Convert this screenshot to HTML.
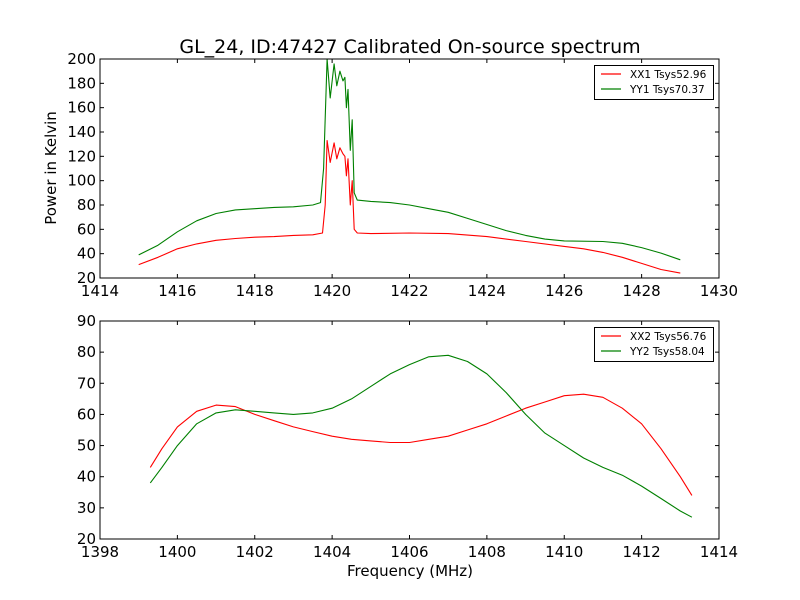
<!DOCTYPE html>
<html><head><meta charset="utf-8"><style>
body{margin:0;background:#fff;}
svg{display:block;font-family:"DejaVu Sans","Liberation Sans",sans-serif;}
</style></head><body>
<svg id="c" width="800" height="600"></svg>
<script>
const topFreqRed=[1415,1415.5,1416,1416.5,1417,1417.5,1418,1418.5,1419,1419.5,1419.75,1419.82,1419.87,1419.95,1420.05,1420.12,1420.2,1420.28,1420.33,1420.37,1420.41,1420.47,1420.52,1420.57,1420.65,1421,1422,1423,1424,1425,1426,1426.5,1427,1427.5,1428,1428.5,1429];
const topXX1=[31,37,44,48,51,52.5,53.5,54,55,55.5,57,80,133,115,131,118,127,122,120,104,118,80,100,60,57,56.5,57,56.5,54,50,46,44,41,37,32,27,24];
const topFreqGreen=[1415,1415.5,1416,1416.5,1417,1417.5,1418,1418.5,1419,1419.5,1419.7,1419.78,1419.87,1419.95,1420.05,1420.12,1420.2,1420.28,1420.33,1420.37,1420.41,1420.47,1420.52,1420.57,1420.65,1421,1421.5,1422,1422.5,1423,1423.5,1424,1424.5,1425,1425.5,1426,1427,1427.5,1428,1428.5,1429];
const topYY1=[39,47,58,67,73,76,77,78,78.5,80,82,110,200,168,196,178,190,182,185,160,175,125,150,90,84,83,82,80,77,74,69,64,59,55,52,50.5,50,48.5,45,40.5,35];
const botFreq=[1399.3,1399.6,1400,1400.5,1401,1401.5,1402,1402.5,1403,1403.5,1404,1404.5,1405,1405.5,1406,1406.5,1407,1407.5,1408,1408.5,1409,1409.5,1410,1410.5,1411,1411.5,1412,1412.5,1413,1413.3];
const botXX2=[43,49,56,61,63,62.5,60,58,56,54.5,53,52,51.5,51,51,52,53,55,57,59.5,62,64,66,66.5,65.5,62,57,49,40,34];
const botYY2=[38,43,50,57,60.5,61.5,61,60.5,60,60.5,62,65,69,73,76,78.5,79,77,73,67,60,54,50,46,43,40.5,37,33,29,27];
const topXTicks=[1414,1416,1418,1420,1422,1424,1426,1428,1430];
const topYTicks=[20,40,60,80,100,120,140,160,180,200];
const botXTicks=[1398,1400,1402,1404,1406,1408,1410,1412,1414];
const botYTicks=[20,30,40,50,60,70,80,90];

const NS="http://www.w3.org/2000/svg";
const svg=document.getElementById('c');
function mk(tag,attrs,parent,text){const e=document.createElementNS(NS,tag);for(const k in attrs)e.setAttribute(k,attrs[k]);if(text!==undefined)e.textContent=text;(parent||svg).appendChild(e);return e;}

function panel(name,x0,x1,y0,y1,xmin,xmax,ymin,ymax,xt,yt,series,legend){
  const g=mk('g',{});
  
  
  const sx=v=>x0+(v-xmin)/(xmax-xmin)*(x1-x0);
  const sy=v=>y1-(v-ymin)/(ymax-ymin)*(y1-y0);
  series.forEach(s=>{
    const d=s.x.map((v,i)=>(i?'L':'M')+sx(v).toFixed(1)+','+sy(s.y[i]).toFixed(1)).join(' ');
    const p=mk('path',{d:d,fill:'none',stroke:s.color,'stroke-width':1.1,'stroke-linejoin':'round'},g);
    
    
  });
  const fr=mk('rect',{x:x0,y:y0,width:x1-x0,height:y1-y0,fill:'none',stroke:'#000','stroke-width':1},g);
  
  
  xt.forEach(v=>{const x=sx(v);
    mk('line',{x1:x,x2:x,y1:y1,y2:y1-4,stroke:'#000'},g);mk('line',{x1:x,x2:x,y1:y0,y2:y0+4,stroke:'#000'},g);
    const t=mk('text',{x:x,y:y1+18,'font-size':15,'text-anchor':'middle'},g,String(v));
    
    
  });
  yt.forEach(v=>{const y=sy(v);
    mk('line',{x1:x0,x2:x0+4,y1:y,y2:y,stroke:'#000'},g);mk('line',{x1:x1,x2:x1-4,y1:y,y2:y,stroke:'#000'},g);
    const t=mk('text',{x:x0-4,y:y+5,'font-size':15,'text-anchor':'end'},g,String(v));
    
    
  });
  const lg=mk('g',{},g);
  
  
  mk('rect',{x:594.5,y:y0+6.5,width:119,height:34,fill:'#fff',stroke:'#000'},lg);
  legend.forEach((l,i)=>{const y=y0+15+i*15;
    mk('line',{x1:601,x2:621,y1:y,y2:y,stroke:l.color,'stroke-width':1.2},lg);
    const t=mk('text',{x:630,y:y+4,'font-size':10.5},lg,l.label);
    
    
  });
}
panel('top-panel',100,719,59,278,1414,1430,20,200,topXTicks,topYTicks,
  [{name:'xx1-line',x:topFreqRed,y:topXX1,color:'#ff0000'},{name:'yy1-line',x:topFreqGreen,y:topYY1,color:'#008000'}],
  [{label:'XX1 Tsys52.96',color:'#ff0000'},{label:'YY1 Tsys70.37',color:'#008000'}]);
panel('bottom-panel',100,719,321,539,1398,1414,20,90,botXTicks,botYTicks,
  [{name:'xx2-line',x:botFreq,y:botXX2,color:'#ff0000'},{name:'yy2-line',x:botFreq,y:botYY2,color:'#008000'}],
  [{label:'XX2 Tsys56.76',color:'#ff0000'},{label:'YY2 Tsys58.04',color:'#008000'}]);
let t=mk('text',{x:410,y:53,'font-size':19,'text-anchor':'middle'},svg,'GL_24, ID:47427 Calibrated On-source spectrum');


t=mk('text',{x:410,y:576,'font-size':15,'text-anchor':'middle'},svg,'Frequency (MHz)');


t=mk('text',{x:0,y:0,'font-size':15,'text-anchor':'middle',transform:'translate(56,168) rotate(-90)'},svg,'Power in Kelvin');


</script>
</body></html>
